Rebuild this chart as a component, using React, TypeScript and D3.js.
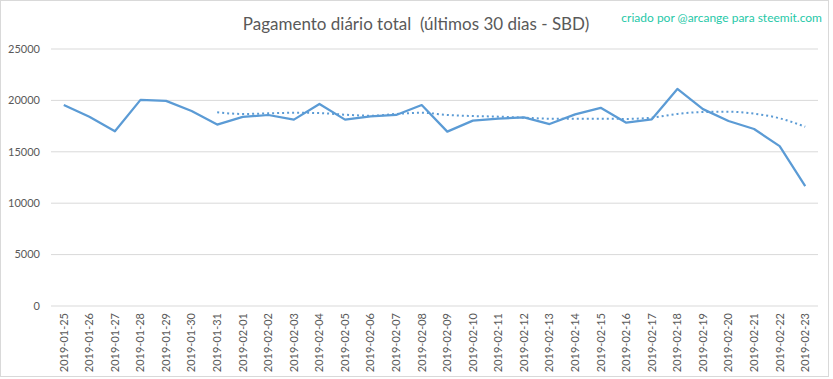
import React from "react";
import * as d3 from "d3";

const dates = [
  "2019-01-25","2019-01-26","2019-01-27","2019-01-28","2019-01-29","2019-01-30","2019-01-31",
  "2019-02-01","2019-02-02","2019-02-03","2019-02-04","2019-02-05","2019-02-06","2019-02-07",
  "2019-02-08","2019-02-09","2019-02-10","2019-02-11","2019-02-12","2019-02-13","2019-02-14",
  "2019-02-15","2019-02-16","2019-02-17","2019-02-18","2019-02-19","2019-02-20","2019-02-21",
  "2019-02-22","2019-02-23",
];

const payout = [
  19550, 18400, 17000, 20050, 19950, 18970, 17650,
  18400, 18580, 18130, 19650, 18130, 18450, 18580,
  19550, 16960, 18030, 18220, 18350, 17700, 18640,
  19280, 17830, 18160, 21110, 19150, 18000, 17220,
  15550, 11670,
];

// trend line values (starting at 2019-01-31)
const trendStart = 6;
const trend = [
  18840, 18680, 18740, 18800, 18770, 18610, 18510,
  18680, 18800, 18580, 18480, 18420, 18320, 18220,
  18220, 18220, 18200, 18320, 18680, 18870, 18900,
  18710, 18260, 17440,
];

const yTicks = [0, 5000, 10000, 15000, 20000, 25000];

const title = "Pagamento diário total  (últimos 30 dias - SBD)";
const credit = "criado por @arcange para steemit.com";

const W = 833;
const H = 379;
const font = "Lato, 'Open Sans', sans-serif";

export default function App() {
  const x = d3.scaleBand<string>().domain(dates).range([51, 818]);
  const cx = (d: string) => (x(d) as number) + x.bandwidth() / 2;
  const y = d3.scaleLinear().domain([0, 25000]).range([306, 49]);

  const line = d3
    .line<number>()
    .x((_, i) => cx(dates[i]))
    .y((v) => y(v));

  const trendLine = d3
    .line<number>()
    .x((_, i) => cx(dates[i + trendStart]))
    .y((v) => y(v))
    .curve(d3.curveMonotoneX);

  return (
    <svg
      width={W}
      height={H}
      style={{ position: "absolute", left: 0, top: 0, background: "#fff" }}
    >
      <rect x={0.5} y={0.5} width={828} height={376} fill="#fff" stroke="#d9d9d9" />
      <text
        x={416}
        y={30}
        textAnchor="middle"
        fontFamily={font}
        fontSize={17}
        fill="#595959"
        style={{ whiteSpace: "pre" }}
      >
        {title}
      </text>
      <text
        x={822}
        y={22}
        textAnchor="end"
        fontFamily={font}
        fontSize={12}
        fill="#1fc8a8"
      >
        {credit}
      </text>
      {yTicks.map((t) => (
        <g key={t}>
          <line x1={51} x2={818} y1={y(t)} y2={y(t)} stroke="#d9d9d9" strokeWidth={1} />
          <text
            x={40}
            y={y(t)}
            dy="0.35em"
            textAnchor="end"
            fontFamily={font}
            fontSize={11}
            fill="#595959"
          >
            {t}
          </text>
        </g>
      ))}
      {dates.map((d) => (
        <text
          key={d}
          transform={`translate(${cx(d)},${313}) rotate(-90)`}
          dy="0.35em"
          textAnchor="end"
          fontFamily={font}
          fontSize={11}
          fill="#595959"
        >
          {d}
        </text>
      ))}
      <path
        d={trendLine(trend) || ""}
        fill="none"
        stroke="#5b9bd5"
        strokeWidth={2}
        strokeDasharray="2 3"
      />
      <path
        d={line(payout) || ""}
        fill="none"
        stroke="#5b9bd5"
        strokeWidth={2.25}
        strokeLinejoin="round"
      />
    </svg>
  );
}
